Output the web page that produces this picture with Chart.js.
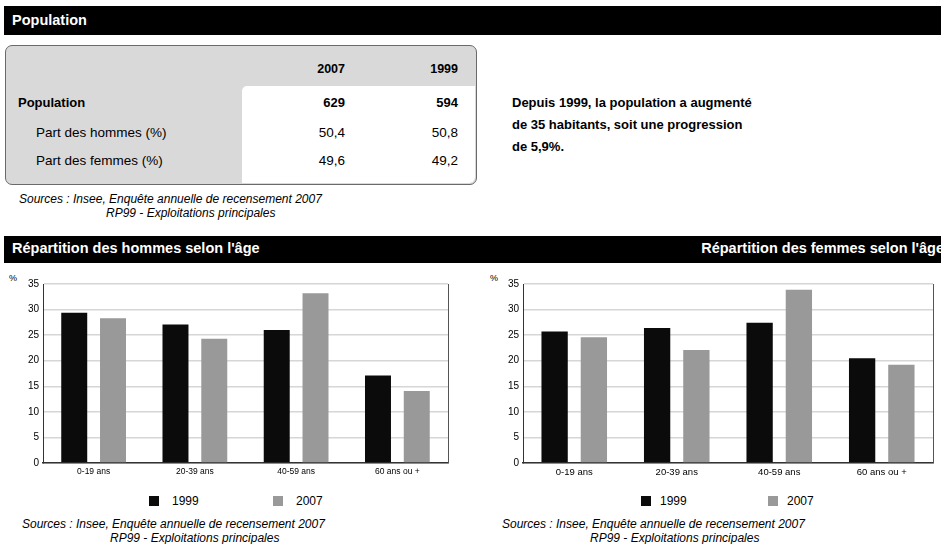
<!DOCTYPE html>
<html>
<head>
<meta charset="utf-8">
<script src="https://cdn.jsdelivr.net/npm/chart.js@4/dist/chart.umd.min.js"></script>
<style>
  html,body{margin:0;padding:0;background:#fff;}
  #page{position:relative;width:941px;height:544px;overflow:hidden;font-family:"Liberation Sans",Arial,sans-serif;color:#000;}
  .abs{position:absolute;white-space:nowrap;line-height:16px;}
  .bar{position:absolute;left:4px;right:0;background:#000;overflow:hidden;}
  .bar span{position:absolute;color:#fff;font-weight:bold;font-size:14.5px;line-height:16px;white-space:nowrap;}
  .b{font-weight:bold;}
  .src{font-style:italic;font-size:12px;}
  .lg-box{position:absolute;width:10px;height:10px;}
  .lg-txt{position:absolute;font-size:12px;line-height:16px;}
  .cw{position:absolute;}
</style>
</head>
<body>
<div id="page">
  <div class="bar" style="top:6px;height:29px;"><span style="left:8px;top:6px;">Population</span></div>

  <div style="position:absolute;left:5px;top:45px;width:470px;height:138px;border:1px solid #6a6a6a;border-radius:7px;background:#d9d9d9;"></div>
  <div style="position:absolute;left:242px;top:86px;width:233px;height:97px;background:#fff;border-radius:5px 0 6px 0;"></div>

  <div id="table"></div>

  <div class="abs src" style="left:19px;top:191px;">Sources : Insee, Enquête annuelle de recensement 2007</div>
  <div class="abs src" style="left:106px;top:205px;">RP99 - Exploitations principales</div>

  <div class="abs b" style="left:512px;top:95px;font-size:13px;">Depuis 1999, la population a augmenté</div>
  <div class="abs b" style="left:512px;top:117px;font-size:13px;">de 35 habitants, soit une progression</div>
  <div class="abs b" style="left:512px;top:139px;font-size:13px;">de 5,9%.</div>

  <div class="bar" style="top:236px;height:27px;">
    <span style="left:8px;top:4px;">Répartition des hommes selon l'âge</span>
    <span style="right:-3px;top:4px;">Répartition des femmes selon l'âge</span>
  </div>

  <div class="abs" style="left:9px;top:270px;font-size:9px;">%</div>
  <div class="abs" style="left:490px;top:270px;font-size:9px;">%</div>

  <div class="cw" style="left:0px;top:268px;width:470px;height:215px;"><canvas id="c1"></canvas></div>
  <div class="cw" style="left:480px;top:268px;width:461px;height:215px;"><canvas id="c2"></canvas></div>

  <div id="lg1"></div>
  <div id="lg2"></div>

  <div class="abs src" style="left:22px;top:516px;">Sources : Insee, Enquête annuelle de recensement 2007</div>
  <div class="abs src" style="left:110px;top:530px;">RP99 - Exploitations principales</div>
  <div class="abs src" style="left:502px;top:516px;">Sources : Insee, Enquête annuelle de recensement 2007</div>
  <div class="abs src" style="left:590px;top:530px;">RP99 - Exploitations principales</div>
</div>
<script>
// ---- data ----
const tableYears = ['2007', '1999'];
const populationRow = ['629', '594'];
const partHommes = ['50,4', '50,8'];
const partFemmes = ['49,6', '49,2'];

const categories = ['0-19 ans', '20-39 ans', '40-59 ans', '60 ans ou +'];
const seriesNames = ['1999', '2007'];
const hommes1999 = [29.4, 27.1, 26.0, 17.1];
const hommes2007 = [28.3, 24.3, 33.2, 14.1];
const femmes1999 = [25.7, 26.4, 27.4, 20.5];
const femmes2007 = [24.6, 22.1, 33.9, 19.2];
const yMin = 0, yMax = 35, yStep = 5;

const seriesColors = ['#0b0b0b', '#999999'];

// ---- table ----
(function(){
  const t = document.getElementById('table');
  const colRight = [941-345, 941-458];
  function cell(txt, style){ const d=document.createElement('div'); d.className='abs'; d.textContent=txt; d.setAttribute('style', style); t.appendChild(d); }
  tableYears.forEach((y,i)=>cell(y, `right:${colRight[i]}px;top:61px;font-size:12.5px;font-weight:bold;`));
  cell('Population', 'left:18px;top:95px;font-size:13px;font-weight:bold;');
  populationRow.forEach((v,i)=>cell(v, `right:${colRight[i]}px;top:95px;font-size:13px;font-weight:bold;`));
  cell('Part des hommes (%)', 'left:36px;top:125px;font-size:13.5px;');
  partHommes.forEach((v,i)=>cell(v, `right:${colRight[i]}px;top:125px;font-size:13.5px;`));
  cell('Part des femmes (%)', 'left:36px;top:153px;font-size:13.5px;');
  partFemmes.forEach((v,i)=>cell(v, `right:${colRight[i]}px;top:153px;font-size:13.5px;`));
})();

// ---- legends ----
function legend(id, pos){
  const el = document.getElementById(id);
  seriesNames.forEach((n,i)=>{
    const b=document.createElement('div'); b.className='lg-box';
    b.style.left=pos[i][0]+'px'; b.style.top='496px'; b.style.background=seriesColors[i]; el.appendChild(b);
    const s=document.createElement('div'); s.className='lg-txt'; s.textContent=n;
    s.style.left=pos[i][1]+'px'; s.style.top='493px'; el.appendChild(s);
  });
}
legend('lg1', [[149,172],[273,296]]);
legend('lg2', [[641,660],[768,787]]);

// ---- charts ----
const framePlugin = {
  id: 'frame',
  afterDraw(chart){
    const a = chart.chartArea, ctx = chart.ctx;
    ctx.save();
    ctx.strokeStyle = '#555';
    ctx.lineWidth = 1;
    ctx.beginPath();
    ctx.moveTo(Math.round(a.right)+0.5, a.top);
    ctx.lineTo(Math.round(a.right)+0.5, a.bottom);
    ctx.stroke();
    ctx.restore();
  }
};

function makeChart(id, d1, d2, padRight, xFont){
  return new Chart(document.getElementById(id), {
    type: 'bar',
    data: {
      labels: categories,
      datasets: [
        { label: seriesNames[0], data: d1, backgroundColor: seriesColors[0], borderColor: '#000', borderWidth: 0 },
        { label: seriesNames[1], data: d2, backgroundColor: seriesColors[1], borderWidth: 0 }
      ]
    },
    options: {
      responsive: true,
      maintainAspectRatio: false,
      animation: false,
      categoryPercentage: 0.766,
      barPercentage: 0.67,
      layout: { padding: { top: 16, right: padRight, left: 0, bottom: 0 } },
      plugins: { legend: { display: false }, tooltip: { enabled: false } },
      scales: {
        y: {
          min: yMin, max: yMax,
          ticks: { stepSize: yStep, color: '#000', font: { size: 10, family: '"Liberation Sans", Arial, sans-serif' }, padding: 4 },
          grid: { color: '#d6d6d6', lineWidth: 1.5, drawTicks: false },
          border: { color: '#333', width: 1 },
          afterFit(s){ s.width = 43; }
        },
        x: {
          ticks: { color: '#000', font: { size: xFont, family: '"Liberation Sans", Arial, sans-serif' }, padding: 4, maxRotation: 0 },
          grid: { display: false, drawTicks: false },
          border: { color: '#333', width: 1.5 },
          afterFit(s){ s.height = 20; }
        }
      }
    },
    plugins: [framePlugin]
  });
}
makeChart('c1', hommes1999, hommes2007, 22, 8.5);
makeChart('c2', femmes1999, femmes2007, 8, 9.5);
</script>
</body>
</html>
